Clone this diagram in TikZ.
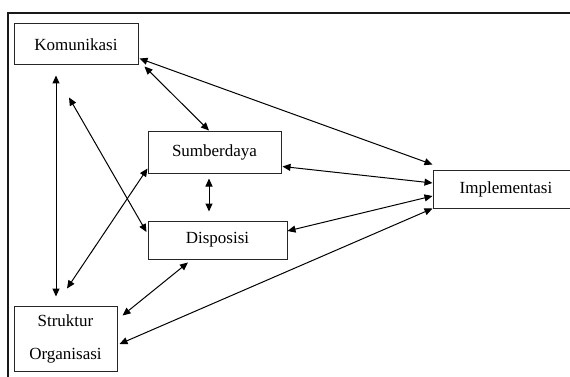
\documentclass[tikz,border=0pt]{standalone}
\usepackage{fontspec}
\setmainfont{Liberation Serif}
\usetikzlibrary{arrows.meta,calc}
\begin{document}
\begin{tikzpicture}[x=1pt,y=-1pt,
  box/.style={draw=black!85,line width=1pt,inner sep=0pt,font=\fontsize{17}{33}\selectfont,align=center},
  link/.style={line width=1pt,{Triangle[length=8pt,width=7pt]}-{Triangle[length=8pt,width=7pt]}}]
\useasboundingbox (0,0) rectangle (570,377);
\clip (0,0) rectangle (570,377);
\draw[line width=2pt,black!90] (8,377) -- (8,13) -- (572,13);
\node[box,minimum width=124pt,minimum height=41pt] (kom) at (76,44.5) {Komunikasi};
\node[box,minimum width=133pt,minimum height=41pt] (sum) at (214.5,152.5) {Sumberdaya};
\node[box,minimum width=139pt,minimum height=38pt] (dis) at (217.5,240) {Disposisi};
\node[box,minimum width=103pt,minimum height=65pt] (str) at (65.5,338.5) {Struktur\\Organisasi};
\node[box,minimum width=146pt,minimum height=38pt] (imp) at (506,189) {Implementasi};
% connectors
\draw[link] ($(kom.south east)+(1,-7)$) -- ($(imp.north west)+(0,-5)$);
\draw[link] ($(kom.south east)+(6,1)$) -- ($(sum.north)+(-5.5,-1)$);
\draw[link] ($(sum.south east)+(1,-7)$) -- ($(imp.west)+(0,-6)$);
\draw[link] ($(sum.south)+(-5.5,5)$) -- ($(dis.north)+(-8.5,-9)$);
\draw[link] ($(kom.south)+(-20,10)$) -- ($(str.north)+(-9.5,-9)$);
\draw[link] ($(kom.south)+(-7,32)$) -- ($(dis.west)+(-1,-8)$);
\draw[link] ($(sum.south west)+(0,-5)$) -- ($(str.north)+(1.5,-17)$);
\draw[link] ($(dis.south)+(-29.5,3)$) -- ($(str.north east)+(5,10)$);
\draw[link] ($(dis.east)+(0,-9)$) -- ($(imp.west)+(0,7)$);
\draw[link] ($(str.east)+(2,5.5)$) -- (imp.south west);
\end{tikzpicture}
\end{document}
